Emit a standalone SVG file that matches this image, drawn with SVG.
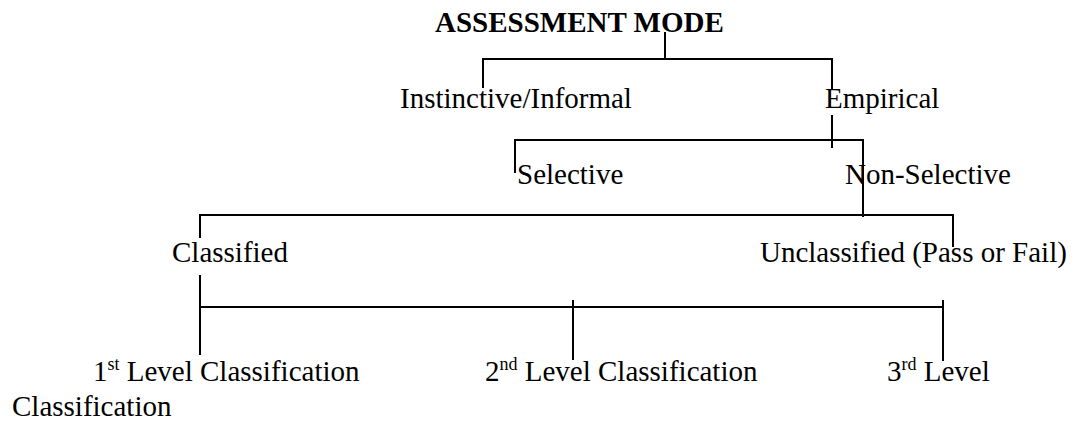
<svg xmlns="http://www.w3.org/2000/svg" width="1075" height="423" viewBox="0 0 1075 423">
<style>
text{font-family:"Liberation Serif","Times New Roman",serif;font-size:29px;fill:#000}
.b{font-weight:bold}
.sup{font-size:18px}
#connectors line{stroke:#000;stroke-width:2;fill:none}
</style>
<rect width="1075" height="423" fill="#fff"/>
<g id="connectors">
<line x1="665" y1="32" x2="665" y2="59"/>
<line x1="482" y1="59" x2="833" y2="59"/>
<line x1="483" y1="58" x2="483" y2="88"/>
<line x1="832" y1="58" x2="832" y2="89"/>
<line x1="832" y1="115" x2="832" y2="148"/>
<line x1="514" y1="140" x2="864" y2="140"/>
<line x1="515" y1="139" x2="515" y2="173"/>
<line x1="863" y1="139" x2="863" y2="217"/>
<line x1="199" y1="215" x2="954" y2="215"/>
<line x1="200" y1="214" x2="200" y2="238"/>
<line x1="953" y1="214" x2="953" y2="247"/>
<line x1="200" y1="275" x2="200" y2="355"/>
<line x1="200" y1="307" x2="943" y2="307"/>
<line x1="573" y1="300" x2="573" y2="360"/>
<line x1="943" y1="300" x2="943" y2="361"/>
</g>
<g id="n-assessment"><text class="b" x="435" y="32">ASSESSMENT MODE</text></g>
<g id="n-instinctive"><text x="400" y="108">Instinctive/Informal</text></g>
<g id="n-empirical"><text x="825" y="108">Empirical</text></g>
<g id="n-selective"><text x="517" y="184">Selective</text></g>
<g id="n-nonselective"><text x="845" y="184">Non-Selective</text></g>
<g id="n-classified"><text x="172" y="262">Classified</text></g>
<g id="n-unclassified"><text x="760" y="262">Unclassified (Pass or Fail)</text></g>
<g id="n-level1"><text x="93" y="381">1<tspan class="sup" dy="-11">st</tspan><tspan dy="11"> Level Classification</tspan></text>
<text x="12" y="416">Classification</text></g>
<g id="n-level2"><text x="485" y="381">2<tspan class="sup" dy="-11">nd</tspan><tspan dy="11"> Level Classification</tspan></text></g>
<g id="n-level3"><text x="887" y="381">3<tspan class="sup" dy="-11">rd</tspan><tspan dy="11"> Level</tspan></text></g>
</svg>
